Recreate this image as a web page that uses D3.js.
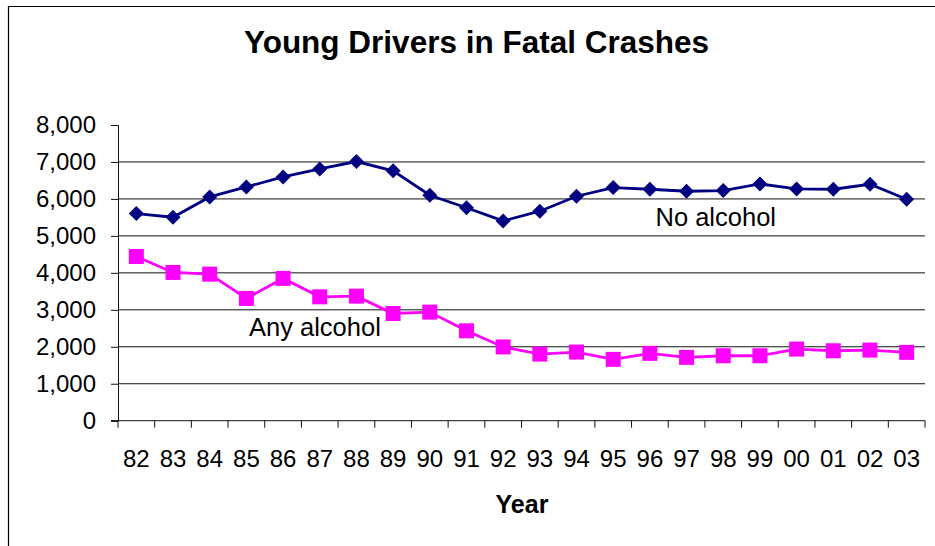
<!DOCTYPE html>
<html>
<head>
<meta charset="utf-8">
<script src="https://cdn.jsdelivr.net/npm/d3@7"></script>
<style>
  html, body { margin: 0; padding: 0; background: #fff; }
  svg { display: block; font-family: Arial, "Liberation Sans", sans-serif; }
</style>
</head>
<body>
<svg id="chart" width="935" height="546"></svg>
<script>
// 資料（自圖面讀取的估計值）
const years = ['82','83','84','85','86','87','88','89','90','91','92',
               '93','94','95','96','97','98','99','00','01','02','03'];
const noAlcohol = [5605, 5505, 6054, 6324, 6595, 6811, 7011, 6760, 6100, 5760, 5405,
                   5668, 6073, 6308, 6262, 6208, 6227, 6405, 6270, 6262, 6397, 5992];
const anyAlcohol = [4443, 4011, 3965, 3308, 3849, 3351, 3370, 2900, 2938, 2432, 1995,
                    1803, 1857, 1659, 1822, 1713, 1757, 1757, 1938, 1892, 1911, 1849];
const yTicks = [0, 1000, 2000, 3000, 4000, 5000, 6000, 7000, 8000];

const W = 935, H = 546;
const plot = { left: 118, right: 925, top: 125, bottom: 420.7 };

const svg = d3.select('#chart');

// 外框（只見左、上兩邊）
svg.append('path')
  .attr('d', `M8.5,${H}V6.5H${W}`)
  .attr('fill', 'none')
  .attr('stroke', '#000')
  .attr('stroke-width', 1.2);

const x = d3.scaleBand().domain(years).range([plot.left, plot.right]).padding(0);
const y = d3.scaleLinear().domain([0, 8000]).range([plot.bottom, plot.top]);

// 格線
svg.append('g')
  .selectAll('line')
  .data(yTicks.filter((d) => d > 0 && d < 8000))
  .join('line')
  .attr('x1', plot.left).attr('x2', plot.right)
  .attr('y1', (d) => y(d)).attr('y2', (d) => y(d))
  .attr('stroke', '#111')
  .attr('stroke-width', 1);

// Y 軸
const yAxis = svg.append('g')
  .attr('transform', `translate(${plot.left},0)`)
  .call(d3.axisLeft(y).tickValues(yTicks).tickFormat(d3.format(',')).tickSize(7).tickPadding(15));
yAxis.select('.domain').attr('stroke', '#111');
yAxis.selectAll('.tick line').attr('stroke', '#111');
yAxis.selectAll('text').attr('font-size', 24).attr('fill', '#000');

// X 軸：標籤用 band 軸，刻度畫在類別之間
const xAxis = svg.append('g')
  .attr('transform', `translate(0,${plot.bottom})`)
  .call(d3.axisBottom(x).tickSize(0).tickPadding(29));
xAxis.select('.domain').attr('stroke', '#111').attr('d', `M${plot.left - 7},0H${plot.right}`);
xAxis.selectAll('text').attr('font-size', 24).attr('fill', '#000');

const edges = years.map((d) => x(d)).concat([plot.right]);
svg.append('g')
  .selectAll('line')
  .data(edges)
  .join('line')
  .attr('x1', (d) => d).attr('x2', (d) => d)
  .attr('y1', plot.bottom).attr('y2', plot.bottom + 7)
  .attr('stroke', '#111');

const cx = (i) => x(years[i]) + x.bandwidth() / 2;
const line = d3.line().x((d, i) => cx(i)).y((d) => y(d));

// 無酒精
svg.append('path')
  .datum(noAlcohol)
  .attr('d', line)
  .attr('fill', 'none')
  .attr('stroke', '#000080')
  .attr('stroke-width', 2.8);
svg.append('g')
  .selectAll('path')
  .data(noAlcohol)
  .join('path')
  .attr('transform', (d, i) => `translate(${cx(i)},${y(d)})`)
  .attr('d', 'M0,-7.5L7.5,0L0,7.5L-7.5,0Z')
  .attr('fill', '#000080');

// 有酒精
svg.append('path')
  .datum(anyAlcohol)
  .attr('d', line)
  .attr('fill', 'none')
  .attr('stroke', '#ff00ff')
  .attr('stroke-width', 2.8);
svg.append('g')
  .selectAll('rect')
  .data(anyAlcohol)
  .join('rect')
  .attr('x', (d, i) => cx(i) - 7.5)
  .attr('y', (d) => y(d) - 7.5)
  .attr('width', 15)
  .attr('height', 15)
  .attr('fill', '#ff00ff');

// 文字
svg.append('text')
  .attr('x', 476.5).attr('y', 52.5)
  .attr('text-anchor', 'middle')
  .attr('font-size', 31.5).attr('font-weight', 'bold')
  .text('Young Drivers in Fatal Crashes');

svg.append('text')
  .attr('x', 522).attr('y', 513)
  .attr('text-anchor', 'middle')
  .attr('font-size', 25).attr('font-weight', 'bold')
  .text('Year');

svg.append('text')
  .attr('x', 655.5).attr('y', 225.5)
  .attr('font-size', 25.5)
  .text('No alcohol');

svg.append('text')
  .attr('x', 249).attr('y', 336)
  .attr('font-size', 25.5)
  .text('Any alcohol');
</script>
</body>
</html>
